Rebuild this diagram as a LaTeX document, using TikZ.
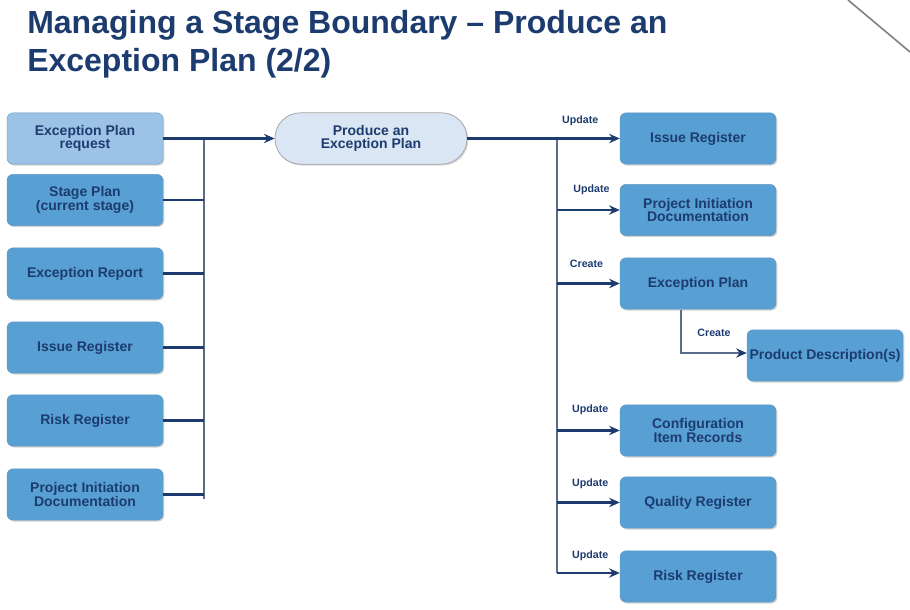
\documentclass[tikz,border=0pt]{standalone}
\usepackage{fontspec}
\setmainfont{Liberation Sans}
\usetikzlibrary{shadows,arrows.meta}
\definecolor{navy}{HTML}{1C3C70}
\definecolor{boxblue}{HTML}{589FD3}
\definecolor{lightbox}{HTML}{9CC2E5}
\definecolor{pillfill}{HTML}{DAE6F3}
\definecolor{vline}{HTML}{5B6B8C}
\tikzset{
  x=0.75pt, y=-0.75pt,
  docbox/.style={draw=boxblue!80!gray, line width=0.3pt, fill=boxblue, rounded corners=4.5pt,
    minimum width=117pt, minimum height=38.5pt, align=center, text=navy,
    font=\bfseries\fontsize{10.5}{10.2}\selectfont, inner sep=1pt,
    drop shadow={shadow xshift=1pt, shadow yshift=-1pt, opacity=0.35, fill=gray}},
  pill/.style={draw=gray!70, line width=0.6pt, fill=pillfill, rounded corners=19pt,
    minimum width=144pt, minimum height=38.5pt, align=center, text=navy,
    font=\bfseries\fontsize{10.5}{10.2}\selectfont,
    drop shadow={shadow xshift=1pt, shadow yshift=-1pt, opacity=0.3, fill=gray}},
  flow/.style={draw=navy, line width=1.6pt, -{Stealth[length=8pt,width=7pt]}},
  feed/.style={draw=navy, line width=1.6pt},
  trunk/.style={draw=vline, line width=1pt},
  lbl/.style={text=navy, font=\bfseries\fontsize{8}{8}\selectfont, inner sep=0pt},
}
\begin{document}
\begin{tikzpicture}
\useasboundingbox (0,0) rectangle (910,610);
% title
\node[anchor=north west, inner sep=0pt, text=navy, align=left,
  font=\bfseries\fontsize{24}{28.5}\selectfont] (title) at (27,10)
  {Managing a Stage Boundary – Produce an\\Exception Plan (2/2)};
\draw[gray, line width=1.2pt] (848,0) -- (910,52);

% left inputs
\node[docbox, fill=lightbox] (in1) at (85,138.5) {Exception Plan\\request};
\node[docbox] (in2) at (85,200) {Stage Plan\\(current stage)};
\node[docbox] (in3) at (85,273.5) {Exception Report};
\node[docbox] (in4) at (85,347.5) {Issue Register};
\node[docbox] (in5) at (85,420.5) {Risk Register};
\node[docbox] (in6) at (85,494.5) {Project Initiation\\Documentation};

% process
\node[pill] (proc) at (371,138.5) {Produce an\\Exception Plan};

% outputs
\node[docbox] (out1) at (698,138.5) {Issue Register};
\node[docbox] (out2) at (698,210) {Project Initiation\\Documentation};
\node[docbox] (out3) at (698,283.5) {Exception Plan};
\node[docbox] (out4) at (825,355.5) {Product Description(s)};
\node[docbox] (out5) at (698,430.5) {Configuration\\Item Records};
\node[docbox] (out6) at (698,502.5) {Quality Register};
\node[docbox] (out7) at (698,576.5) {Risk Register};

% input bus
\coordinate (lb1) at (204,138.5);
\coordinate (lb6) at (204,499);
\draw[trunk] (lb1) -- (lb6);
\draw[flow] (in1.east) -- (proc.west);
\foreach \n in {2,...,6} {\draw[feed] (in\n.east) -- (in\n.east -| lb1);}

% output bus
\coordinate (rb1) at (557,138.5);
\coordinate (rb7) at (557,573);
\draw[trunk] (rb1) -- (rb7);
\draw[flow] (proc.east) -- node[lbl, pos=0.74, above=8.5pt] (l1) {Update} (out1.west);
\draw[flow] (rb1 |- out2.west) -- node[lbl, above=11pt, pos=0.55] (l2) {Update} (out2.west);
\draw[flow] (rb1 |- out3.west) -- node[lbl, above=11pt, pos=0.47] (l3) {Create} (out3.west);
\draw[flow] (rb1 |- out5.west) -- node[lbl, above=11pt, pos=0.53] (l5) {Update} (out5.west);
\draw[flow] (rb1 |- out6.west) -- node[lbl, above=9.5pt, pos=0.53] (l6) {Update} (out6.west);
\draw[flow] (rb7) -- node[lbl, above=8.5pt, pos=0.53] (l7) {Update} (rb7 -| out7.west);

% exception plan -> product descriptions
\coordinate (pd) at (681,353);
\draw[draw=vline, line width=1pt, -{Stealth[length=8pt,width=7pt,color=navy]}] (681,309.5) -- (pd) -- (pd -| out4.west);
\node[lbl] (l4) at (714,333) {Create};
\end{tikzpicture}
\end{document}
